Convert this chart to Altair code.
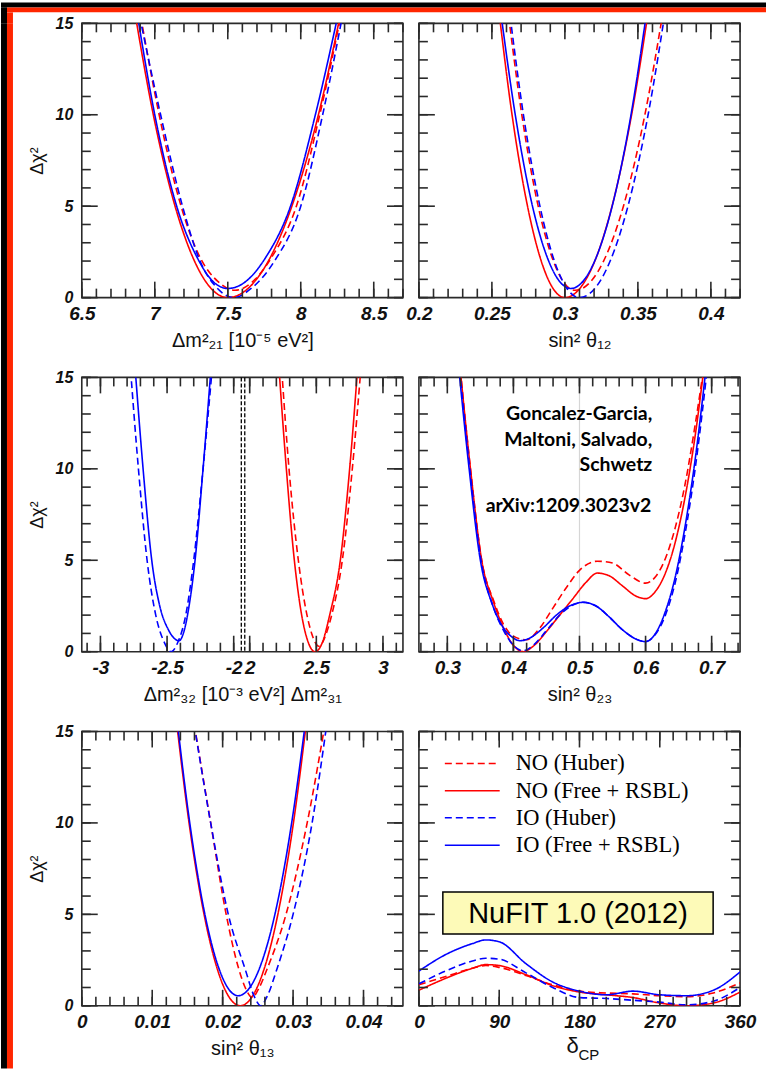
import altair as alt
import pandas as pd
import numpy as np

# ---------------- series definitions ----------------
SERIES = ["NO (Huber)", "NO (Free + RSBL)", "IO (Huber)", "IO (Free + RSBL)"]
COLORS = ["#ff0000", "#ff0000", "#0000ff", "#0000ff"]
DASHES = [[7, 4], [1, 0], [7, 4], [1, 0]]

# ---------------- panel 1: dm21 ----------------
dm21_no_huber_x = [6.89, 7.03, 7.18, 7.31, 7.43, 7.55, 7.66, 7.80, 7.97, 8.13, 8.29]
dm21_no_huber_y = [16, 10, 5, 2.2, 0.9, 0.4, 0.8, 2.2, 5, 10, 16]
dm21_no_free_x = [6.855, 6.99, 7.139, 7.272, 7.386, 7.50, 7.639, 7.778, 7.939, 8.121, 8.285]
dm21_no_free_y = [16, 10, 5, 2, 0.5, 0, 0.5, 2, 5, 10, 16]
dm21_io_huber_x = [6.88, 7.04, 7.19, 7.31, 7.43, 7.54, 7.66, 7.82, 8.00, 8.15, 8.30]
dm21_io_huber_y = [16, 10, 5, 2, 0.5, 0, 0.5, 2, 5, 10, 16]
dm21_io_free_x = [6.87, 7.00, 7.15, 7.29, 7.41, 7.50, 7.60, 7.76, 7.93, 8.10, 8.27]
dm21_io_free_y = [16, 10, 5, 2.2, 0.8, 0.5, 0.75, 2.2, 5, 10, 16]
dm21_ticks = [6.5, 7, 7.5, 8, 8.5]

# ---------------- panel 2: sin^2 theta12 ----------------
th12_no_huber_x = [0.2605, 0.2705, 0.2817, 0.2921, 0.2979, 0.307, 0.3190, 0.3265, 0.3401, 0.3548, 0.3680]
th12_no_huber_y = [16, 10, 5, 2, 1, 0.4, 1, 2, 5, 10, 16]
th12_no_free_x = [0.2543, 0.2638, 0.2744, 0.2838, 0.2919, 0.300, 0.3102, 0.3205, 0.3323, 0.3457, 0.3578]
th12_no_free_y = [16, 10, 5, 2, 0.5, 0, 0.5, 2, 5, 10, 16]
th12_io_huber_x = [0.2615, 0.2716, 0.2829, 0.2928, 0.3014, 0.310, 0.3205, 0.3310, 0.3432, 0.3570, 0.3694]
th12_io_huber_y = [16, 10, 5, 2, 0.5, 0, 0.5, 2, 5, 10, 16]
th12_io_free_x = [0.2554, 0.2660, 0.2778, 0.2889, 0.2953, 0.304, 0.3135, 0.3204, 0.3324, 0.3453, 0.3567]
th12_io_free_y = [16, 10, 5, 2, 1, 0.5, 1, 2, 5, 10, 16]
th12_ticks = [0.2, 0.25, 0.3, 0.35, 0.4]

# ---------------- panel 3: dm31 (NO) / dm32 (IO) ----------------
dm3_no_huber_x = [2.235, 2.295, 2.365, 2.43, 2.465, 2.52, 2.575, 2.615, 2.695, 2.77, 2.84]
dm3_no_huber_y = [16, 10, 5, 2, 1, 0.3, 1, 2, 5, 10, 16]
dm3_no_free_x = [2.215, 2.275, 2.335, 2.39, 2.44, 2.49, 2.545, 2.60, 2.68, 2.75, 2.815]
dm3_no_free_y = [16, 10, 5, 2, 0.5, 0, 0.5, 2, 5, 10, 16]
dm3_io_huber_x = [-2.78, -2.715, -2.65, -2.585, -2.52, -2.47, -2.42, -2.36, -2.30, -2.23, -2.155]
dm3_io_huber_y = [16, 10, 5, 2, 0.5, 0, 0.5, 2, 5, 10, 16]
dm3_io_free_x = [-2.745, -2.68, -2.615, -2.555, -2.49, -2.41, -2.37, -2.335, -2.29, -2.23, -2.165]
dm3_io_free_y = [16, 10, 5, 2.5, 1.2, 0.6, 1.2, 2.5, 5, 10, 16]
dm3_ticks = [-3, -2.5, -2, 2, 2.5, 3]
dm3_break = -1.93      # where the negative branch ends on the shared axis
dm3_shift = 3.88       # positive branch is drawn shifted by this amount

# ---------------- panel 4: sin^2 theta23 ----------------
th23_no_huber_x = [0.318, 0.335, 0.352, 0.37, 0.385, 0.40, 0.42, 0.44, 0.46, 0.48, 0.50, 0.527, 0.55, 0.575, 0.60, 0.615, 0.63, 0.645, 0.66, 0.675, 0.69]
th23_no_huber_y = [16, 10, 5, 2.8, 1.5, 0.85, 0.65, 1.3, 2.4, 3.5, 4.45, 4.95, 4.85, 4.2, 3.75, 4.1, 5.1, 6.8, 9.2, 12.4, 16]
th23_no_free_x = [0.318, 0.335, 0.352, 0.37, 0.385, 0.40, 0.415, 0.43, 0.45, 0.47, 0.49, 0.51, 0.527, 0.545, 0.565, 0.585, 0.60, 0.615, 0.63, 0.645, 0.66, 0.675, 0.69]
th23_no_free_y = [16, 10, 5, 2.7, 1.3, 0.35, 0.0, 0.3, 1.1, 2.0, 2.9, 3.8, 4.3, 4.15, 3.6, 3.05, 2.9, 3.3, 4.3, 6.0, 8.5, 11.8, 16]
th23_io_huber_x = [0.317, 0.334, 0.351, 0.369, 0.386, 0.40, 0.415, 0.43, 0.45, 0.47, 0.49, 0.505, 0.525, 0.545, 0.565, 0.585, 0.60, 0.615, 0.63, 0.645, 0.66, 0.675, 0.695]
th23_io_huber_y = [16, 10, 5, 2.5, 1.1, 0.35, 0.05, 0.35, 1.15, 2.0, 2.55, 2.7, 2.5, 1.9, 1.2, 0.7, 0.55, 0.95, 2.0, 3.8, 6.5, 10.0, 16]
th23_io_free_x = [0.316, 0.333, 0.35, 0.368, 0.385, 0.398, 0.41, 0.425, 0.445, 0.465, 0.485, 0.505, 0.525, 0.545, 0.565, 0.585, 0.60, 0.615, 0.63, 0.645, 0.66, 0.675, 0.693]
th23_io_free_y = [16, 10, 5, 2.6, 1.3, 0.8, 0.6, 0.75, 1.3, 2.0, 2.5, 2.7, 2.5, 1.9, 1.2, 0.7, 0.55, 1.0, 2.2, 4.1, 6.9, 10.5, 16]
th23_ticks = [0.3, 0.4, 0.5, 0.6, 0.7]
th23_marker = [0.5]

# ---------------- panel 5: sin^2 theta13 ----------------
th13_no_huber_x = [0.0157, 0.0183, 0.0205, 0.0223, 0.0232, 0.0242, 0.0252, 0.0263, 0.0290, 0.0320, 0.0348]
th13_no_huber_y = [16, 10, 5, 2, 1, 0.45, 1, 2, 5, 10, 16]
th13_no_free_x = [0.01331, 0.01523, 0.01736, 0.01925, 0.02087, 0.0225, 0.02419, 0.02588, 0.02784, 0.03005, 0.03205]
th13_no_free_y = [16, 10, 5, 2, 0.5, 0, 0.5, 2, 5, 10, 16]
th13_io_huber_x = [0.0157, 0.0183, 0.0208, 0.0232, 0.0245, 0.0254, 0.0263, 0.0277, 0.0300, 0.0327, 0.0350]
th13_io_huber_y = [16, 10, 5, 2, 0.5, 0, 0.5, 2, 5, 10, 16]
th13_io_free_x = [0.01341, 0.01533, 0.01748, 0.01951, 0.0207, 0.0222, 0.02386, 0.02518, 0.02742, 0.0298, 0.03192]
th13_io_free_y = [16, 10, 5, 2, 1, 0.55, 1, 2, 5, 10, 16]
th13_ticks = [0, 0.01, 0.02, 0.03, 0.04]

# ---------------- panel 6: delta_CP ----------------
dcp_x = [0, 30, 60, 75, 90, 120, 150, 180, 210, 240, 270, 300, 330, 360]
dcp_no_huber_y = [1.15, 1.6, 2.05, 2.2, 2.1, 1.65, 1.15, 0.8, 0.7, 0.65, 0.55, 0.5, 0.7, 1.25]
dcp_no_free_y = [0.85, 1.5, 2.05, 2.25, 2.2, 1.7, 1.1, 0.75, 0.6, 0.45, 0.15, 0.0, 0.15, 0.75]
dcp_io_huber_y = [1.2, 1.9, 2.45, 2.6, 2.55, 1.8, 1.0, 0.45, 0.4, 0.3, 0.2, 0.05, 0.25, 1.0]
dcp_io_free_y = [1.9, 2.8, 3.4, 3.6, 3.5, 2.3, 1.3, 0.8, 0.6, 0.8, 0.6, 0.55, 0.85, 1.85]
dcp_ticks = [0, 90, 180, 270, 360]

y_ticks = [0, 5, 10, 15]

credit_lines = ["Goncalez-Garcia,", "Maltoni, Salvado,", "Schwetz"]
credit_ref = "arXiv:1209.3023v2"
badge_text = "NuFIT 1.0 (2012)"

# ---------------- style ----------------
W, H = 322, 275
FRAME = "#2a2a2a"
TXT = "#111111"
LF = "Liberation Sans"
MAJ_LEN, MIN_LEN = 16, 9
RED_BORDER = "#ff2600"


def frame(xs_list, ys_list):
    rows = []
    for s, xs, ys in zip(SERIES, xs_list, ys_list):
        for x, y in zip(xs, ys):
            rows.append({"series": s, "x": x, "y": y})
    return pd.DataFrame(rows)


def steps(lo, hi, step):
    n = int(round((hi - lo) / step))
    return [round(lo + i * step, 6) for i in range(n + 1)]


YSCALE = alt.Scale(domain=[0, 15], nice=False, zero=False)


def tick_layers(xs, xmaj, xmin):
    layers = []
    ymin = steps(0, 15, 1)
    for vals, ln in ((xmaj, MAJ_LEN), (xmin, MIN_LEN)):
        d = pd.DataFrame({"t": vals})
        b = alt.Chart(d).mark_rule(color=FRAME, strokeWidth=1.6)
        layers.append(b.encode(x=alt.X("t:Q", scale=xs, axis=None), y=alt.value(H), y2=alt.value(H - ln)))
        layers.append(b.encode(x=alt.X("t:Q", scale=xs, axis=None), y=alt.value(0), y2=alt.value(ln)))
    for vals, ln in ((y_ticks, MAJ_LEN), (ymin, MIN_LEN)):
        d = pd.DataFrame({"t": vals})
        b = alt.Chart(d).mark_rule(color=FRAME, strokeWidth=1.6)
        layers.append(b.encode(y=alt.Y("t:Q", scale=YSCALE, axis=None), x=alt.value(0), x2=alt.value(ln)))
        layers.append(b.encode(y=alt.Y("t:Q", scale=YSCALE, axis=None), x=alt.value(W), x2=alt.value(W - ln)))
    return layers


def panel(df, xdom, xmaj, xmin, xtitle, show_y, label_expr="datum.value + ''",
          field="x", back=None, front=None, title_padding=7):
    xs = alt.Scale(domain=xdom, nice=False, zero=False)
    xaxis = alt.Axis(values=xmaj, labelExpr=label_expr, ticks=False, domain=False, grid=False,
                     labelOverlap=False, labelFlush=False, labelBound=False,
                     labelFont=LF, labelFontSize=19, labelFontWeight="bold", labelFontStyle="italic",
                     labelColor=TXT, labelPadding=7, title=xtitle, titleFont=LF, titleFontSize=20,
                     titleFontWeight="normal", titleColor=TXT, titlePadding=title_padding)
    if show_y:
        yaxis = alt.Axis(values=y_ticks, labelExpr="datum.value + ''", ticks=False, domain=False,
                         grid=False, labelOverlap=False, labelFlush=False, labelBound=False,
                         labelFont=LF, labelFontSize=16, labelFontWeight="bold",
                         labelFontStyle="italic", labelColor=TXT, labelPadding=9,
                         title="Δχ²", titleFont=LF, titleFontSize=18, titleFontWeight="normal",
                         titleColor=TXT, titlePadding=9)
    else:
        yaxis = None
    lines = alt.Chart(df).mark_line(clip=True, strokeWidth=1.6, interpolate="monotone").encode(
        x=alt.X(f"{field}:Q", scale=xs, axis=xaxis),
        y=alt.Y("y:Q", scale=YSCALE, axis=yaxis),
        color=alt.Color("series:N", scale=alt.Scale(domain=SERIES, range=COLORS), legend=None),
        strokeDash=alt.StrokeDash("series:N", scale=alt.Scale(domain=SERIES, range=DASHES), legend=None),
    )
    layers = []
    if back:
        layers += back(xs)
    layers.append(lines)
    layers += tick_layers(xs, xmaj, xmin)
    if front:
        layers += front(xs)
    return alt.layer(*layers).resolve_axis(x="independent", y="independent").properties(width=W, height=H)


# ---- panel 1
df1 = frame([dm21_no_huber_x, dm21_no_free_x, dm21_io_huber_x, dm21_io_free_x],
            [dm21_no_huber_y, dm21_no_free_y, dm21_io_huber_y, dm21_io_free_y])
p1 = panel(df1, [6.5, 8.7], dm21_ticks, steps(6.5, 8.7, 0.1), "Δm²₂₁ [10⁻⁵ eV²]", True)

# ---- panel 2
df2 = frame([th12_no_huber_x, th12_no_free_x, th12_io_huber_x, th12_io_free_x],
            [th12_no_huber_y, th12_no_free_y, th12_io_huber_y, th12_io_free_y])
p2 = panel(df2, [0.2, 0.42], th12_ticks, steps(0.2, 0.42, 0.01), "sin² θ₁₂", False)

# ---- panel 3 (broken axis)
df3 = frame([dm3_no_huber_x, dm3_no_free_x, dm3_io_huber_x, dm3_io_free_x],
            [dm3_no_huber_y, dm3_no_free_y, dm3_io_huber_y, dm3_io_free_y])
df3["u"] = np.where(df3["x"] < 0, df3["x"], df3["x"] - dm3_shift)
u_major = [t if t < 0 else round(t - dm3_shift, 6) for t in dm3_ticks]
u_minor = steps(-3.1, -2.0, 0.1) + [round(t - dm3_shift, 6) for t in steps(2.0, 3.1, 0.1)]
dm3_label = (f"datum.value > {dm3_break} ? (round((datum.value + {dm3_shift}) * 10) / 10) + '' "
             f": (round(datum.value * 10) / 10) + ''")
break_lines = [dm3_break - 0.013, dm3_break + 0.013]


def p3_front(xs):
    d = pd.DataFrame({"b": break_lines})
    return [alt.Chart(d).mark_rule(color="black", strokeWidth=1.3, strokeDash=[4, 2]).encode(
        x=alt.X("b:Q", scale=xs, axis=None))]


p3 = panel(df3, [-3.14, -0.73], u_major, u_minor, "Δm²₃₂   [10⁻³ eV²]   Δm²₃₁", True,
           label_expr=dm3_label, field="u", front=p3_front)

# ---- panel 4
df4 = frame([th23_no_huber_x, th23_no_free_x, th23_io_huber_x, th23_io_free_x],
            [th23_no_huber_y, th23_no_free_y, th23_io_huber_y, th23_io_free_y])


def p4_back(xs):
    d = pd.DataFrame({"m": th23_marker})
    return [alt.Chart(d).mark_rule(color="#d6d6d6", strokeWidth=1.2).encode(
        x=alt.X("m:Q", scale=xs, axis=None))]


def p4_front(xs):
    one = alt.Data(values=[{}])
    t1 = alt.Chart(one).mark_text(font="Lato", fontSize=19.5, fontWeight="bold", align="right",
                                  baseline="middle", lineHeight=25.5, color="black").encode(
        x=alt.value(234), y=alt.value(37), text=alt.value(credit_lines))
    t2 = alt.Chart(one).mark_text(font="Lato", fontSize=19.5, fontWeight="bold", align="right",
                                  baseline="middle", color="black").encode(
        x=alt.value(233), y=alt.value(129), text=alt.value(credit_ref))
    return [t1, t2]


p4 = panel(df4, [0.257, 0.743], th23_ticks, steps(0.26, 0.74, 0.02), "sin² θ₂₃", False,
           back=p4_back, front=p4_front)

# ---- panel 5
df5 = frame([th13_no_huber_x, th13_no_free_x, th13_io_huber_x, th13_io_free_x],
            [th13_no_huber_y, th13_no_free_y, th13_io_huber_y, th13_io_free_y])
p5 = panel(df5, [0, 0.0456], th13_ticks, steps(0, 0.044, 0.002), "sin² θ₁₃", True)

# ---- panel 6
df6 = frame([dcp_x] * 4, [dcp_no_huber_y, dcp_no_free_y, dcp_io_huber_y, dcp_io_free_y])


def p6_front(xs):
    one = alt.Data(values=[{}])
    layers = []
    ys = [32, 59.5, 86.5, 114]
    for s, c, d, yy in zip(SERIES, COLORS, DASHES, ys):
        layers.append(alt.Chart(one).mark_rule(color=c, strokeDash=d, strokeWidth=1.5).encode(
            x=alt.value(26), x2=alt.value(81), y=alt.value(yy)))
    layers.append(alt.Chart(one).mark_text(font="Liberation Serif", fontSize=22.5, align="left",
                                           baseline="middle", lineHeight=27.3, color="black").encode(
        x=alt.value(97), y=alt.value(32), text=alt.value(SERIES)))
    layers.append(alt.Chart(one).mark_rect(fill="#fdfab8", stroke="black", strokeWidth=1.5).encode(
        x=alt.value(24), x2=alt.value(295), y=alt.value(161), y2=alt.value(203)))
    layers.append(alt.Chart(one).mark_text(font=LF, fontSize=29, align="center", baseline="middle",
                                           color="black").encode(
        x=alt.value(159.5), y=alt.value(183), text=alt.value(badge_text)))
    layers.append(alt.Chart(one).mark_text(font=LF, fontSize=22, align="center", baseline="alphabetic",
                                           color=TXT).encode(
        x=alt.value(154), y=alt.value(322), text=alt.value("δ")))
    layers.append(alt.Chart(one).mark_text(font=LF, fontSize=15, align="left", baseline="alphabetic",
                                           color=TXT).encode(
        x=alt.value(160), y=alt.value(329), text=alt.value("CP")))
    return layers


p6 = panel(df6, [0, 360], dcp_ticks, steps(0, 360, 15), "", False, front=p6_front)

# ---------------- border strips ----------------
one = alt.Data(values=[{}])


def rect(x0, x1, y0, y1, c):
    return alt.Chart(one).mark_rect(fill=c, strokeWidth=0).encode(
        x=alt.value(x0), x2=alt.value(x1), y=alt.value(y0), y2=alt.value(y1))


top_strip = alt.layer(
    rect(0, 767, 0, 5, "black"), rect(6, 767, 5, 10, RED_BORDER),
    rect(0, 6, 5, 21, "black"), rect(6, 12, 10, 21, RED_BORDER),
).properties(width=767, height=21, view=alt.ViewBackground(stroke="transparent"))

left_strip = alt.layer(
    rect(0, 6, 0, 1048, "black"), rect(6, 12, 0, 1048, RED_BORDER),
).properties(width=12, height=1048, view=alt.ViewBackground(stroke="transparent"))

grid = alt.concat(p1, p2, p3, p4, p5, p6, columns=2,
                  spacing={"row": 80, "column": 16}, bounds="flush")
main = alt.hconcat(left_strip, grid, spacing=69, bounds="flush")
chart = alt.vconcat(top_strip, main, spacing=0, bounds="flush").properties(
    padding=0, background="white"
).configure_view(stroke=FRAME, strokeWidth=1.6)

chart.save("out.html", embed_options={"renderer": "svg", "actions": False})
